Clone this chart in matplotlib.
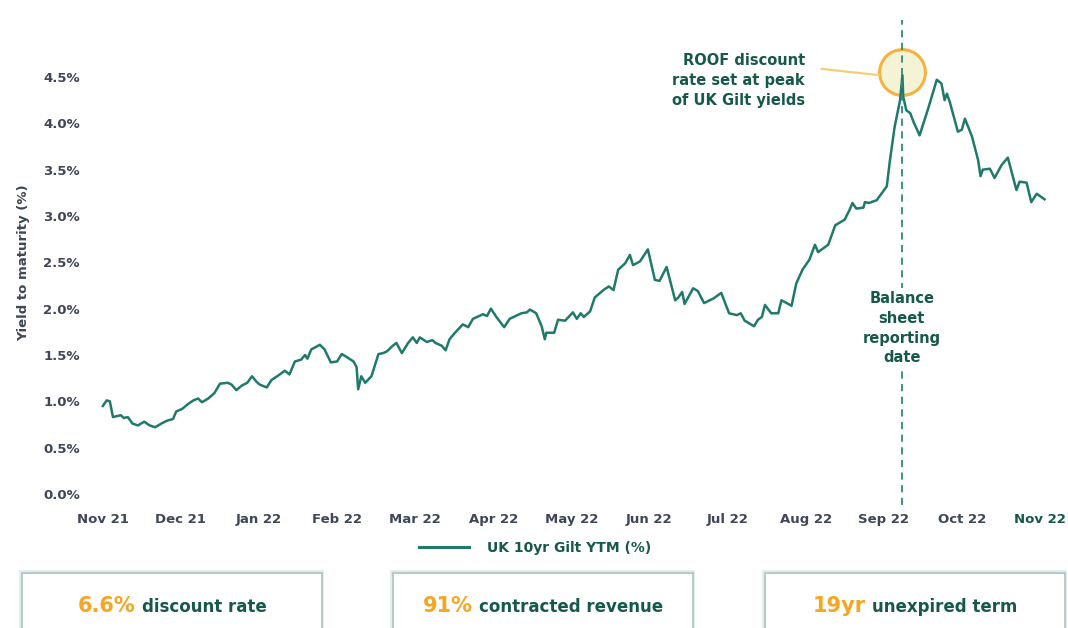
import matplotlib
matplotlib.use("Agg")
import matplotlib.pyplot as plt
from matplotlib.lines import Line2D
from matplotlib.patches import Rectangle
from matplotlib.offsetbox import TextArea, HPacker, AnnotationBbox

plt.rcParams['font.family'] = ['DejaVu Sans']
plt.rcParams['font.weight'] = 'bold'

# UK 10yr gilt yield, x = months since Nov 21
month_pos = [0.00, 0.05, 0.09, 0.13, 0.18, 0.23, 0.27, 0.32, 0.38, 0.45, 0.53, 0.60, 0.67, 0.75,
             0.82, 0.90, 0.94, 1.02, 1.09, 1.16, 1.22, 1.27, 1.35, 1.43, 1.50, 1.60, 1.65, 1.71,
             1.78, 1.85, 1.91, 1.97, 2.01, 2.10, 2.16, 2.25, 2.33, 2.39, 2.46, 2.54, 2.59, 2.62,
             2.67, 2.78, 2.84, 2.92, 3.00, 3.06, 3.12, 3.21, 3.25, 3.27, 3.31, 3.36, 3.44, 3.53,
             3.59, 3.64, 3.70, 3.76, 3.83, 3.91, 3.97, 4.02, 4.06, 4.15, 4.22, 4.26, 4.34, 4.39,
             4.44, 4.51, 4.61, 4.68, 4.74, 4.87, 4.92, 4.97, 5.04, 5.14, 5.21, 5.36, 5.43, 5.47,
             5.55, 5.62, 5.66, 5.68, 5.78, 5.83, 5.92, 6.02, 6.07, 6.12, 6.16, 6.24, 6.30, 6.41,
             6.48, 6.54, 6.60, 6.69, 6.75, 6.79, 6.88, 6.98, 7.07, 7.13, 7.22, 7.33, 7.37, 7.42,
             7.45, 7.56, 7.62, 7.70, 7.82, 7.92, 8.02, 8.12, 8.17, 8.22, 8.34, 8.39, 8.44, 8.48,
             8.56, 8.65, 8.69, 8.76, 8.82, 8.88, 8.96, 9.05, 9.12, 9.16, 9.29, 9.38, 9.50, 9.56,
             9.60, 9.65, 9.74, 9.76, 9.81, 9.91, 10.04, 10.08, 10.14, 10.21, 10.24, 10.25, 10.29,
             10.34, 10.38, 10.46, 10.57, 10.68, 10.74, 10.78, 10.81, 10.85, 10.95, 11.00, 11.04,
             11.13, 11.21, 11.24, 11.27, 11.36, 11.42, 11.51, 11.59, 11.70, 11.74, 11.83, 11.89,
             11.96, 12.06]
ytm = [0.95, 1.01, 1.00, 0.83, 0.84, 0.85, 0.82, 0.83, 0.76, 0.74, 0.78, 0.74, 0.72, 0.76,
       0.79, 0.81, 0.89, 0.92, 0.97, 1.01, 1.03, 0.99, 1.03, 1.09, 1.19, 1.20, 1.18, 1.12,
       1.17, 1.20, 1.27, 1.21, 1.18, 1.15, 1.23, 1.28, 1.33, 1.29, 1.43, 1.45, 1.50, 1.46,
       1.56, 1.61, 1.56, 1.42, 1.43, 1.51, 1.48, 1.43, 1.37, 1.13, 1.27, 1.20, 1.27, 1.51,
       1.52, 1.54, 1.59, 1.63, 1.52, 1.63, 1.69, 1.63, 1.69, 1.64, 1.66, 1.63, 1.60, 1.55,
       1.67, 1.74, 1.83, 1.80, 1.89, 1.94, 1.92, 2.00, 1.91, 1.80, 1.89, 1.95, 1.96, 1.99,
       1.95, 1.81, 1.67, 1.74, 1.74, 1.88, 1.87, 1.96, 1.89, 1.95, 1.91, 1.97, 2.12, 2.20,
       2.24, 2.20, 2.42, 2.49, 2.58, 2.47, 2.51, 2.64, 2.31, 2.30, 2.45, 2.09, 2.12, 2.18,
       2.05, 2.22, 2.19, 2.06, 2.11, 2.17, 1.95, 1.93, 1.95, 1.87, 1.81, 1.88, 1.91, 2.04,
       1.95, 1.95, 2.09, 2.06, 2.03, 2.27, 2.42, 2.53, 2.69, 2.61, 2.69, 2.90, 2.96, 3.06,
       3.14, 3.08, 3.09, 3.15, 3.14, 3.17, 3.32, 3.60, 3.96, 4.25, 4.52, 4.29, 4.14,
       4.11, 4.02, 3.87, 4.16, 4.47, 4.43, 4.25, 4.32, 4.22, 3.91, 3.93, 4.05,
       3.86, 3.60, 3.43, 3.50, 3.51, 3.41, 3.55, 3.63, 3.28, 3.37, 3.36, 3.15,
       3.24, 3.18]

month_labels = ['Nov 21', 'Dec 21', 'Jan 22', 'Feb 22', 'Mar 22', 'Apr 22', 'May 22',
                'Jun 22', 'Jul 22', 'Aug 22', 'Sep 22', 'Oct 22', 'Nov 22']
y_ticks = [0.0, 0.5, 1.0, 1.5, 2.0, 2.5, 3.0, 3.5, 4.0, 4.5]
reporting_pos = 10.23
peak_ytm = 4.55

stat_values = ['6.6%', '91%', '19yr']
stat_texts = ['discount rate', 'contracted revenue', 'unexpired term']

line_col = '#1f7a6b'
text_green = '#16594a'
tick_col = '#3f4657'
orange = '#f5a623'

W, H = 1068, 628
fig = plt.figure(figsize=(W / 100, H / 100), dpi=100)
ax = fig.add_axes([95 / W, 1 - 505 / H, 955 / W, 485 / H])

ax.plot(month_pos, ytm, color=line_col, lw=1.8, solid_joinstyle='round')
ax.set_xlim(-0.10, 12.13)
ax.set_ylim(-0.119, 5.115)

ax.set_xticks(range(len(month_labels)))
ax.set_xticklabels(month_labels)
ax.set_yticks(y_ticks)
ax.set_yticklabels(['{:.1f}%'.format(v) for v in y_ticks])
ax.tick_params(length=0, labelsize=9.5, labelcolor=tick_col, pad=6)
ax.tick_params(axis='y', pad=11)
ax.get_xticklabels()[-1].set_color(text_green)
for s in ax.spines.values():
    s.set_visible(False)
ax.set_ylabel('Yield to maturity (%)', fontsize=9.5, fontweight='bold', color=tick_col,
              labelpad=9)

# reporting date line + label
ax.axvline(reporting_pos, color='#2f8a76', lw=1.3, ls=(0, (4, 3)))
ax.text(reporting_pos, 1.79, 'Balance\nsheet\nreporting\ndate', ha='center', va='center',
        fontsize=10.5, color=text_green, linespacing=1.4,
        bbox=dict(facecolor='white', edgecolor='none', pad=2))

# peak highlight
ax.plot([reporting_pos], [peak_ytm], 'o', ms=33, mfc='#f3f1cf', mec=orange, mew=2.2,
        alpha=0.85, zorder=1)
ax.annotate('ROOF discount\nrate set at peak\nof UK Gilt yields',
            xy=(9.94, 4.52), xytext=(8.99, 4.46), ha='right', va='center',
            fontsize=10.5, color=text_green, linespacing=1.4,
            arrowprops=dict(arrowstyle='-', color='#f2cf73', lw=1.6,
                            relpos=(1.0, 0.75), shrinkA=10, shrinkB=0))

# legend
handle = Line2D([], [], color=line_col, lw=2.2)
fig.legend([handle], ['UK 10yr Gilt YTM (%)'], loc='center',
           bbox_to_anchor=(535 / W, 1 - 548 / H), frameon=False, fontsize=10,
           labelcolor=text_green, handlelength=3.6, handletextpad=1.3)

# stat boxes
box_lefts = [22, 393, 765]
for left, val, txt in zip(box_lefts, stat_values, stat_texts):
    fig.patches.append(Rectangle(((left - 2) / W, -0.1), 302 / W, (1 - 571 / H) + 0.1,
                                 transform=fig.transFigure, facecolor='none',
                                 edgecolor='#e4ece9', lw=2))
    fig.patches.append(Rectangle((left / W, -0.1), 300 / W, (1 - 573 / H) + 0.1,
                                 transform=fig.transFigure, facecolor='white',
                                 edgecolor='#b5cbc3', lw=1.4))
    pack = HPacker(children=[TextArea(val, textprops=dict(color=orange, fontsize=15)),
                             TextArea(txt, textprops=dict(color=text_green, fontsize=12))],
                   align='baseline', pad=0, sep=5)
    ab = AnnotationBbox(pack, ((left + 150) / W, 1 - 606 / H), xycoords='figure fraction',
                        frameon=False, box_alignment=(0.5, 0.5))
    fig.add_artist(ab)

fig.savefig('out.png', dpi=100)
